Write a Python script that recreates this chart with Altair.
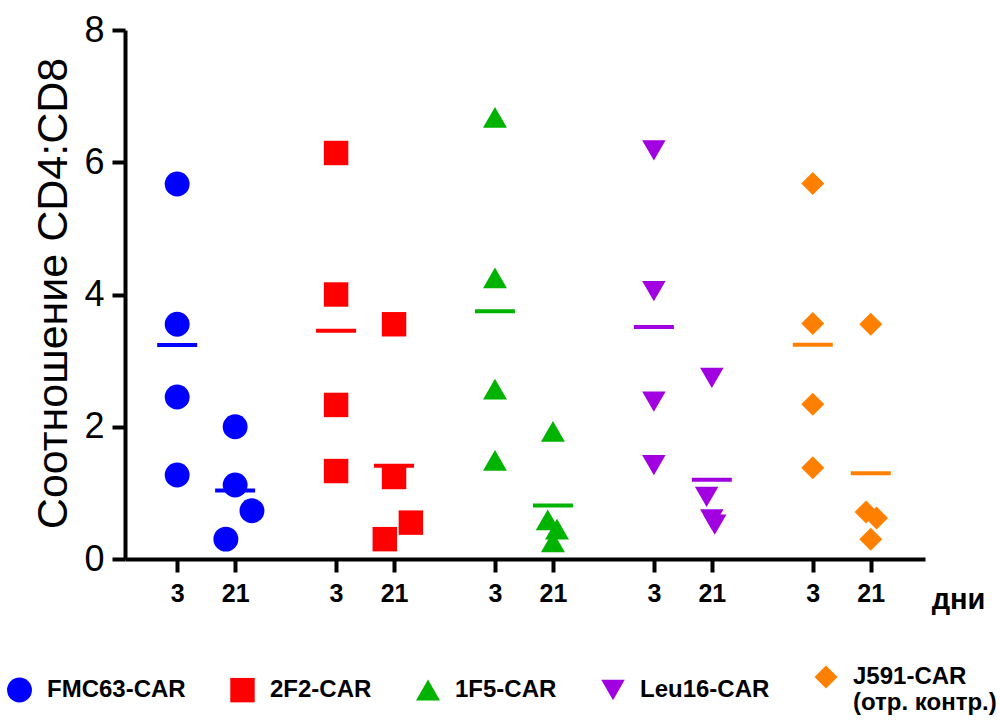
import altair as alt
import pandas as pd

FONT = "Liberation Sans"

groups = ["FMC63-CAR", "2F2-CAR", "1F5-CAR", "Leu16-CAR", "J591-CAR"]
day_labels = ["3", "21"]

# CD4:CD8 ratio, day 3
day3_values = [
    [5.67, 3.55, 2.45, 1.27],
    [6.14, 4.00, 2.33, 1.33],
    [6.68, 4.25, 2.57, 1.49],
    [6.18, 4.05, 2.38, 1.42],
    [5.68, 3.56, 2.34, 1.38],
]
# CD4:CD8 ratio, day 21
day21_values = [
    [2.00, 1.12, 0.73, 0.30],
    [3.55, 1.24, 0.55, 0.30],
    [1.93, 0.59, 0.45, 0.26],
    [2.74, 0.94, 0.60, 0.52],
    [3.55, 0.71, 0.62, 0.30],
]
# horizontal scatter of overlapping points (in slot units)
day21_jitter = [
    [0, 0, 0.29, -0.16],
    [0, 0, 0.29, -0.16],
    [0, -0.09, 0.07, 0],
    [0, -0.09, 0.0, 0.05],
    [0, -0.08, 0.10, 0],
]

colors = ["#0000ff", "#ff0000", "#00b300", "#a100e0", "#ff8000"]
shapes = ["circle", "square", "triangle-up", "triangle-down", "diamond"]
marker_sizes = [620, 529, 500, 500, 470]

GROUP_STEP = 2.741

rows = []
for gi, g in enumerate(groups):
    for v in day3_values[gi]:
        rows.append(dict(group=g, gi=gi, di=0, value=v, jitter=0.0))
    for v, j in zip(day21_values[gi], day21_jitter[gi]):
        rows.append(dict(group=g, gi=gi, di=1, value=v, jitter=j))
df = pd.DataFrame(rows)
df["slot"] = df["gi"] * GROUP_STEP + df["di"]
df["xpos"] = df["slot"] + df["jitter"]

slot_values = sorted(set(df["slot"].round(4).tolist()))

label_expr = (
    f"abs(datum.value - round(datum.value/{GROUP_STEP})*{GROUP_STEP}) < 0.01 ? "
    f"'{day_labels[0]}' : '{day_labels[1]}'"
)

x_scale = alt.Scale(domain=[-0.9, 12.9], nice=False, zero=False)
y_scale = alt.Scale(domain=[0, 8], nice=False)

x_axis = alt.Axis(
    values=slot_values, labelExpr=label_expr, grid=False,
    title="дни", titleX=833, titleY=49, titleAlign="center",
    titleBaseline="alphabetic", titleAngle=0,
    titleFont=FONT, titleFontSize=29, titleFontWeight="bold", titleColor="black",
    labelFont=FONT, labelFontSize=25, labelFontWeight="bold", labelColor="black",
    labelPadding=9, tickSize=13, tickWidth=4, tickColor="black",
    domainWidth=4, domainColor="black",
)
y_axis = alt.Axis(
    values=[0, 2, 4, 6, 8], grid=False,
    title="Соотношение CD4:CD8", titleX=-72, titleY=263, titleAlign="center",
    titleBaseline="middle", titleAngle=270,
    titleFont=FONT, titleFontSize=43, titleFontWeight="normal", titleColor="black",
    labelFont=FONT, labelFontSize=36, labelColor="black",
    labelPadding=8, tickSize=13, tickWidth=4, tickColor="black",
    domainWidth=4, domainColor="black",
)

legend = alt.Legend(
    title=None, orient="none", legendX=-118, legendY=635, direction="horizontal",
    symbolSize=840, symbolStrokeWidth=0, labelFont=FONT, labelFontSize=24,
    labelFontWeight="bold", labelColor="black", columnPadding=44, labelOffset=15,
    padding=0, labelLimit=300,
    labelExpr="datum.label == 'J591-CAR' ? ['J591-CAR', '(отр. контр.)'] : datum.label",
)

color_scale = alt.Scale(domain=groups, range=colors)

points = alt.Chart(df).mark_point(filled=True, opacity=1).encode(
    x=alt.X("xpos:Q", scale=x_scale, axis=x_axis),
    y=alt.Y("value:Q", scale=y_scale, axis=y_axis),
    color=alt.Color("group:N", scale=color_scale, legend=legend, sort=groups),
    shape=alt.Shape("group:N", scale=alt.Scale(domain=groups, range=shapes),
                    legend=legend, sort=groups),
    size=alt.Size("group:N", scale=alt.Scale(domain=groups, range=marker_sizes),
                  legend=None),
)

means = alt.Chart(df).mark_tick(orient="horizontal", size=40, thickness=4).encode(
    x=alt.X("slot:Q", scale=x_scale, axis=x_axis),
    y=alt.Y("mean(value):Q", scale=y_scale, axis=y_axis),
    color=alt.Color("group:N", scale=color_scale, legend=None),
)

chart = (
    alt.layer(points, means)
    .properties(
        width=800, height=529, autosize=alt.AutoSizeParams(type="none"),
        padding={"left": 125, "top": 30, "right": 75, "bottom": 163},
        background="white",
    )
    .configure_view(stroke=None)
)

chart.save("out.html", embed_options={"renderer": "svg", "actions": False})
